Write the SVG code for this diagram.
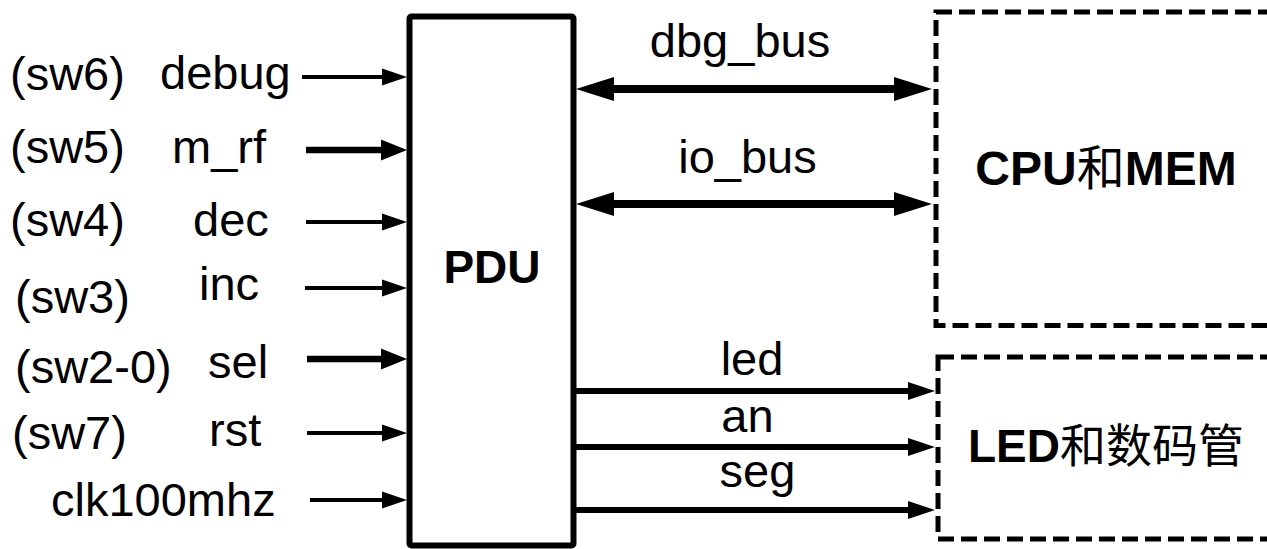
<svg xmlns="http://www.w3.org/2000/svg" width="1267" height="549" viewBox="0 0 1267 549">
<style>
  .lbl { font-family: "Liberation Sans", Arial, sans-serif; font-size: 47px; fill: #000; }
  .bold { font-family: "Liberation Sans", Arial, "Noto Sans CJK SC", sans-serif; font-size: 46px; font-weight: bold; fill: #000; }
  .cjk { font-family: "Noto Sans CJK SC", sans-serif; font-weight: normal; }
  .box { fill: #fff; stroke: #000; stroke-width: 6; }
  .dash { fill: none; stroke: #000; stroke-width: 5; stroke-dasharray: 16 7; }
  .thin { stroke: #000; stroke-width: 4; fill: none; marker-end: url(#ah-thin); }
  .thick { stroke: #000; stroke-width: 6.5; fill: none; marker-end: url(#ah-thick); }
  .out { stroke: #000; stroke-width: 6; fill: none; marker-end: url(#ah-out); }
  .bus { stroke: #000; stroke-width: 8; fill: none; marker-start: url(#ah-bus); marker-end: url(#ah-bus); }
</style>
<defs>
  <marker id="ah-thin" markerUnits="userSpaceOnUse" markerWidth="25" markerHeight="17" refX="0" refY="8.5" orient="auto" overflow="visible">
    <path d="M0,0 L25,8.5 L0,17 Z" fill="#000"/>
  </marker>
  <marker id="ah-thick" markerUnits="userSpaceOnUse" markerWidth="26" markerHeight="21" refX="0" refY="10.5" orient="auto" overflow="visible">
    <path d="M0,0 L26,10.5 L0,21 Z" fill="#000"/>
  </marker>
  <marker id="ah-out" markerUnits="userSpaceOnUse" markerWidth="27" markerHeight="18" refX="0" refY="9" orient="auto" overflow="visible">
    <path d="M0,0 L27,9 L0,18 Z" fill="#000"/>
  </marker>
  <marker id="ah-bus" markerUnits="userSpaceOnUse" markerWidth="38" markerHeight="24" refX="0" refY="12" orient="auto-start-reverse" overflow="visible">
    <path d="M0,0 L38,12 L0,24 Z" fill="#000"/>
  </marker>
</defs>
<rect width="1267" height="549" fill="#fff"/>

<g id="inputs">
  <text class="lbl" x="10" y="90">(sw6)</text>
  <text class="lbl" x="160" y="89">debug</text>
  <text class="lbl" x="10" y="163">(sw5)</text>
  <text class="lbl" x="172" y="163">m_rf</text>
  <text class="lbl" x="10" y="236">(sw4)</text>
  <text class="lbl" x="193" y="236">dec</text>
  <text class="lbl" x="15" y="313">(sw3)</text>
  <text class="lbl" x="199" y="300">inc</text>
  <text class="lbl" x="15" y="383">(sw2-0)</text>
  <text class="lbl" x="208" y="378">sel</text>
  <text class="lbl" x="12" y="449">(sw7)</text>
  <text class="lbl" x="209" y="446">rst</text>
  <text class="lbl" x="51" y="516">clk100mhz</text>
</g>

<g id="pdu">
  <rect class="box" x="409.5" y="16.5" width="164" height="529" rx="2"/>
  <text class="bold" x="492" y="283" text-anchor="middle">PDU</text>
</g>

<g id="cpu-mem">
  <rect class="dash" x="936" y="12" width="400" height="313.5"/>
  <text class="bold" x="1106" y="185" text-anchor="middle" style="font-size:48px">CPU<tspan class="cjk">和</tspan>MEM</text>
</g>

<g id="led-seg">
  <rect class="dash" x="938" y="357" width="400" height="182"/>
  <text class="bold" x="1106" y="462" text-anchor="middle">LED<tspan class="cjk">和数码管</tspan></text>
</g>

<g id="connectors">
  <path class="thin" d="M302,77 H382"/>
  <path class="thick" d="M306,150 H381"/>
  <path class="thin" d="M306,222 H382"/>
  <path class="thin" d="M305,288 H382"/>
  <path class="thick" d="M307,359 H381"/>
  <path class="thin" d="M307,433 H382"/>
  <path class="thin" d="M310,500 H382"/>
  <path class="bus" d="M614,89 H894"/>
  <path class="bus" d="M614,204 H894"/>
  <path class="out" d="M575,391 H908"/>
  <path class="out" d="M575,447 H908"/>
  <path class="out" d="M575,510 H908"/>
  <text class="lbl" x="740" y="57" text-anchor="middle">dbg_bus</text>
  <text class="lbl" x="747.5" y="173" text-anchor="middle">io_bus</text>
  <text class="lbl" x="752" y="375" text-anchor="middle">led</text>
  <text class="lbl" x="747.5" y="432" text-anchor="middle">an</text>
  <text class="lbl" x="757.5" y="487" text-anchor="middle">seg</text>
</g>
</svg>
